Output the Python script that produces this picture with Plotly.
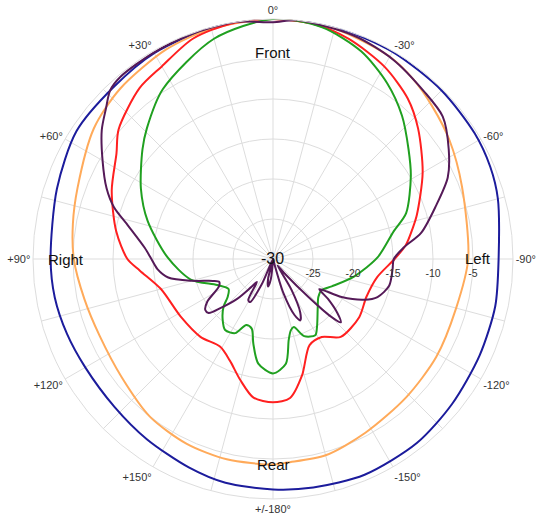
import plotly.graph_objects as go

# Polar response data (angle in degrees, counterclockwise positive = "Right" side; level in dB)
navy_theta = [-180, -170, -157, -142, -129, -115, -102, -90, -75, -67, -58, -45, -30, -15, 0,
              15, 30, 43, 57, 72, 90, 100, 110, 120, 133, 145, 158, 168, 180]
navy_r = [-1.2, -1.0, -0.7, -0.8, -1.2, -1.5, -1.6, -1.8, -0.9, -0.5, -0.3, -0.2, -0.1, 0.0, 0.0,
          -0.1, -0.3, -0.7, -0.7, -1.6, -2.2, -2.3, -2.6, -2.9, -2.9, -2.5, -1.9, -1.4, -1.2]

orange_theta = [-180, -176, -165, -152, -136, -121, -105, -90, -69, -56, -46, -38, -30, -15, 0,
                15, 27, 42, 54, 70, 80, 90, 102, 114, 128, 142, 155, 167, 180]
orange_r = [-4.3, -4.5, -4.6, -5.4, -6.0, -6.2, -6.3, -5.6, -4.7, -3.4, -2.4, -1.5, -0.8, -0.2, 0.0,
            -0.2, -0.6, -1.4, -2.3, -4.0, -4.6, -5.1, -5.9, -6.3, -6.0, -5.0, -4.5, -4.3, -4.3]

red_theta = [-180, -173, -166, -157, -148, -139, -124, -112, -100, -90, -84, -78, -73, -60, -48,
             -40, -30, -19, -10, 0, 10, 20, 30, 38, 50, 56, 67, 80, 90, 95, 105, 122, 137, 149,
             157, 165, 172, 180]
red_r = [-12.1, -12.5, -15.0, -18.3, -18.5, -17.1, -17.0, -17.4, -16.8, -14.8, -13.3, -12.2,
         -11.2, -8.4, -5.6, -3.8, -2.2, -0.9, -0.2, 0.0, -0.1, -0.7, -2.2, -2.9, -4.8, -6.4,
         -8.1, -10.1, -11.8, -13.3, -15.5, -16.4, -16.7, -17.2, -16.2, -14.3, -12.5, -12.1]

green_theta = [-180, -173, -169, -166, -163, -158, -151, -147, -137, -130, -123, -115, -102, -89,
               -77, -71, -59, -51, -42, -33, -23, -12, 0, 15, 33, 44, 50, 62, 73, 89, 104, 115,
               124, 130, 134, 140, 146, 153, 158, 163, 167, 172, 180]
green_r = [-15.7, -16.8, -19.7, -20.8, -21.1, -19.6, -19.1, -19.9, -21.8, -22.6, -22.8, -21.9,
           -19.6, -16.9, -14.5, -12.4, -9.9, -8.2, -5.9, -3.8, -1.8, -0.4, 0.0, -1.5, -4.7, -7.3,
           -8.7, -11.3, -13.6, -16.8, -19.4, -22.3, -23.3, -22.6, -21.4, -20.2, -19.3, -19.6,
           -21.1, -20.9, -19.1, -16.8, -15.7]

purple_theta = [-180, -168, -163, -159, -156, -153, -149, -145, -141, -137, -135, -133, -130,
                -126, -123, -119, -114, -110, -103, -95, -90, -85, -80, -72, -65, -58, -50, -42,
                -31, -20, -6, 0, 9, 20, 30, 40, 44, 48, 53, 60, 67, 72, 77, 85, 90, 95, 100, 105,
                110, 113, 117, 123, 127, 130, 133, 138, 142, 145, 149, 152, 156, 162, 166, 170,
                174, 178, 180]
purple_r = [-30.0, -30.0, -25.5, -22.5, -21.6, -22.5, -25.5, -29.0, -27.5, -23.5, -20.0, -18.4,
            -19.5, -21.5, -23.1, -20.2, -17.5, -16.1, -15.1, -15.0, -14.9, -13.6, -11.2, -8.6,
            -5.9, -4.1, -2.3, -1.8, -0.9, -0.3, 0.0, -0.4, 0.0, -0.1, -0.2, -0.3, -0.7, -1.9,
            -3.2, -5.4, -7.4, -9.1, -11.4, -13.9, -14.8, -15.5, -16.7, -19.5, -22.0, -22.7,
            -22.4, -20.2, -19.4, -19.5, -21.0, -23.3, -25.5, -26.5, -24.0, -23.9, -26.5, -30.0,
            -27.5, -26.5, -27.5, -30.0, -30.0]

angle_ticks = [0, 15, 30, 45, 60, 75, 90, 105, 120, 135, 150, 165, 180,
               195, 210, 225, 240, 255, 270, 285, 300, 315, 330, 345]
angle_labels = ["0°", "", "+30°", "", "+60°", "", "+90°", "", "+120°", "", "+150°", "", "+/-180°",
                "", "-150°", "", "-120°", "", "-90°", "", "-60°", "", "-30°", ""]
radial_ticks = [-25, -20, -15, -10, -5]
radial_labels = ["-25", "-20", "-15", "-10", "-5"]

series = [
    (navy_theta, navy_r, "#1c1c9c"),
    (orange_theta, orange_r, "#ffaa5a"),
    (red_theta, red_r, "#ff2020"),
    (green_theta, green_r, "#20a020"),
    (purple_theta, purple_r, "#551a58"),
]

fig = go.Figure()
for th, rr, col in series:
    fig.add_trace(go.Scatterpolar(
        theta=th, r=rr, mode="lines",
        line=dict(color=col, width=2, shape="spline", smoothing=0.8),
        hoverinfo="skip", showlegend=False,
    ))

W, H = 537, 517
CX, CY, RAD = 273, 259, 240
L, T, D = CX - RAD, CY - RAD, 2 * RAD

FONT = "Arial, Liberation Sans, sans-serif"
fig.update_layout(
    width=W, height=H,
    margin=dict(l=L, r=W - L - D, t=T, b=H - T - D),
    paper_bgcolor="white",
    showlegend=False,
    polar=dict(
        bgcolor="white",
        angularaxis=dict(
            rotation=90, direction="counterclockwise",
            tickmode="array", tickvals=angle_ticks, ticktext=angle_labels,
            showgrid=True, gridcolor="#dddddd", gridwidth=1,
            showline=True, linecolor="#dddddd", linewidth=1,
            ticks="", tickfont=dict(family=FONT, size=11, color="#333333"),
        ),
        radialaxis=dict(
            range=[-30, 0], angle=0,
            tickmode="array", tickvals=radial_ticks, ticktext=radial_labels,
            showgrid=True, gridcolor="#dddddd", gridwidth=1,
            showline=False, ticks="outside", ticklen=5, tickcolor="rgba(0,0,0,0)",
            tickfont=dict(family=FONT, size=10.5, color="#333333"),
        ),
    ),
)

labels = [("Front", 273, 53, 15), ("Rear", 273, 464, 15), ("Right", 66, 259, 15),
          ("Left", 478, 258, 15), ("-30", 272, 258, 16)]
for txt, px, py, fs in labels:
    fig.add_annotation(
        text=txt, showarrow=False, xref="paper", yref="paper",
        x=(px - L) / D, y=1 - (py - T) / D, xanchor="center", yanchor="middle",
        font=dict(family=FONT, size=fs, color="#111111"),
    )

# remove the default 8px page margin so the figure fills the window exactly
fig.write_html("out.html", config={"displayModeBar": False},
               post_script="document.body.style.margin='0';")
